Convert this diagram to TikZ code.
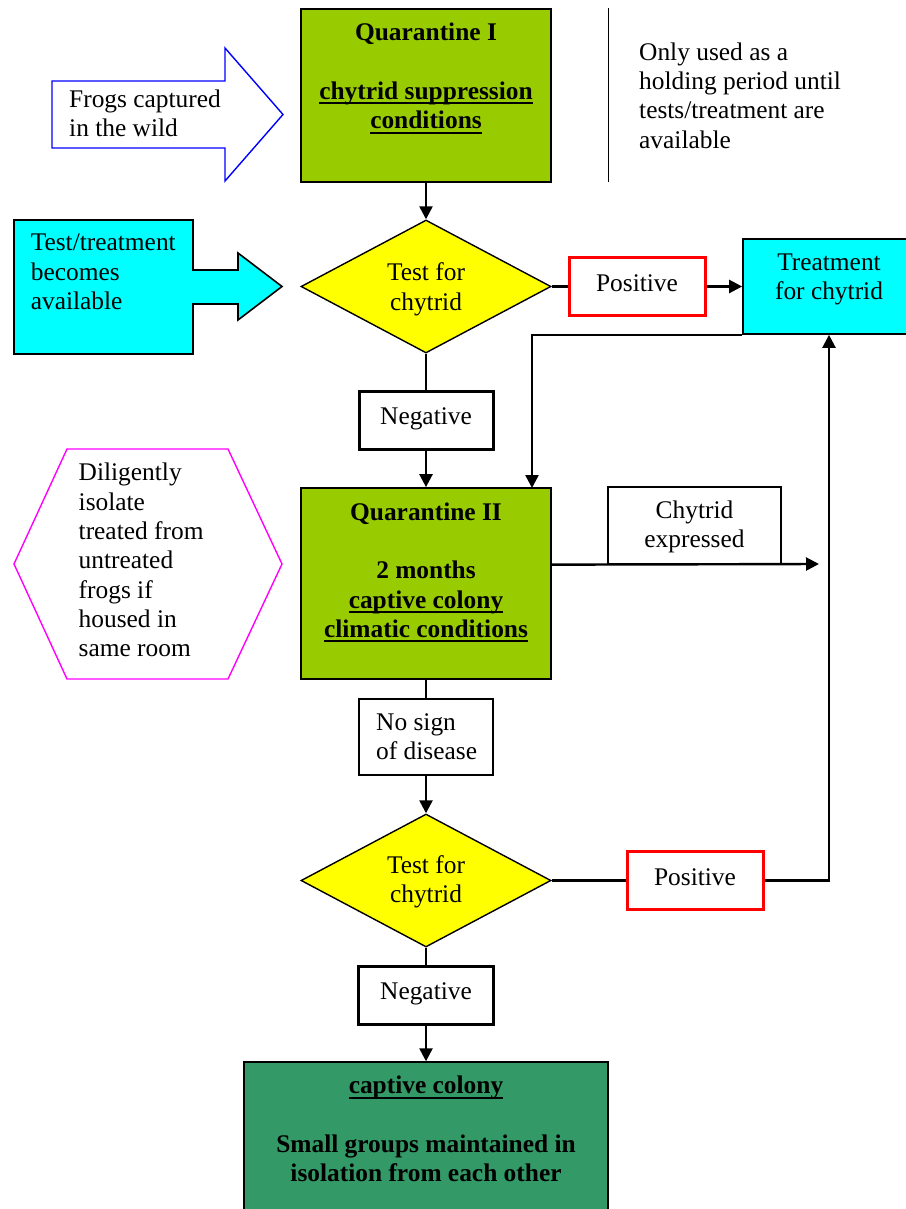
\documentclass[tikz,border=0pt]{standalone}
\usepackage{fontspec}
\setmainfont{Liberation Serif}
\usetikzlibrary{arrows.meta,shapes.geometric}
\definecolor{qgreen}{HTML}{99CC00}
\definecolor{cgreen}{HTML}{339966}
\definecolor{qcyan}{HTML}{00FFFF}
\definecolor{qyellow}{HTML}{FFFF00}
\definecolor{qred}{HTML}{FF0000}
\definecolor{qmag}{HTML}{FF00FF}
\definecolor{qblue}{HTML}{0000FF}
\newcommand{\mystrut}{\rule{0pt}{18pt}}
\newcommand{\myul}[1]{\setbox0\hbox{#1}\rlap{\rule[-5pt]{\wd0}{2pt}}\box0}
\begin{document}
\begin{tikzpicture}[x=1pt,y=-1pt,
  font={\fontsize{25.4}{29.3}\selectfont},
  box/.style={draw, rectangle, inner sep=0pt, line width=1.7pt},
  thinbox/.style={draw, rectangle, inner sep=0pt, line width=1.3pt, fill=white},
  posbox/.style={draw=qred, rectangle, inner sep=0pt, line width=3pt, fill=white},
  negbox/.style={draw, rectangle, inner sep=0pt, line width=3pt, fill=white},
  decision/.style={draw, diamond, fill=qyellow, inner sep=0pt, aspect=1.88,
    minimum width=250pt, minimum height=133pt, line width=1.4pt},
  txt/.style={inner sep=0pt, align=center, anchor=north},
  txtl/.style={inner sep=0pt, align=left, anchor=north west},
  conn/.style={line width=2.4pt},
  arr/.style={line width=2.4pt, -{Triangle[length=13pt,width=13pt]}}]
\useasboundingbox (0,0) rectangle (905,1209);
\fill[white] (0,0) rectangle (905,1209);

% Boxes
\node[box, fill=qgreen, minimum width=250pt, minimum height=173pt] (q1) at (426,95.5) {};
\node[decision] (d1) at (426,286.5) {};
\node[posbox, minimum width=136pt, minimum height=58pt] (pos1) at (637,286.5) {};
\node[box, fill=qcyan, minimum width=172pt, minimum height=95pt] (treat) at (829,286.5) {};
\node[negbox, minimum width=134pt, minimum height=58pt] (neg1) at (426,420) {};
\node[box, fill=qgreen, minimum width=250pt, minimum height=191pt] (q2) at (426,583.5) {};
\node[thinbox, minimum width=173pt, minimum height=77pt] (ce) at (694.5,525.5) {};
\node[thinbox, minimum width=134pt, minimum height=76pt] (nosign) at (426,737) {};
\node[decision] (d2) at (426,880.5) {};
\node[posbox, minimum width=136pt, minimum height=58pt] (pos2) at (695,880.5) {};
\node[negbox, minimum width=135pt, minimum height=58pt] (neg2) at (426,995) {};
\node[draw, rectangle, inner sep=0pt, line width=1.4pt, fill=cgreen, minimum width=364pt, minimum height=153pt] (colony) at (426,1138.5) {};

% Side shapes
\draw[draw=qblue, line width=1.4pt, fill=white]
  (52,81) -- (225,81) -- (225,48) -- (283,114.5) -- (225,181) -- (225,148) -- (52,148) -- cycle;
\draw[line width=1.6pt, fill=qcyan]
  (14,220) -- (193,220) -- (193,270) -- (238,270) -- (238,253) -- (282,286.5)
  -- (238,320) -- (238,304) -- (193,304) -- (193,354) -- (14,354) -- cycle;
\draw[draw=qmag, line width=1.4pt, fill=white]
  (14,564) -- (67,449) -- (228,449) -- (282,564) -- (228,679) -- (67,679) -- cycle;
\draw[line width=1.6pt] (608.5,8) -- (608.5,182);

% Coordinates
\coordinate (q2in) at (532,488);
\coordinate (ceend) at (819,564);

% Connectors
\draw[arr] (q1.south) -- (d1.north);
\draw[conn] (d1.east) -- (pos1.west);
\draw[arr] (pos1.east) -- (treat.west);
\draw[conn] (d1.south) -- (neg1.north);
\draw[arr] (neg1.south) -- (q2.north);
\draw[arr] (treat.south west) -| (q2in);
\draw[arr] (q2.east |- ce.south) -- (ceend);
\draw[conn] (q2.south) -- (nosign.north);
\draw[arr] (nosign.south) -- (d2.north);
\draw[conn] (d2.east) -- (pos2.west);
\draw[arr] (pos2.east) -| (treat.south);
\draw[conn] (d2.south) -- (neg2.north);
\draw[arr] (neg2.south) -- (colony.north);

% Texts
\node[txt, font={\fontsize{25.4}{29.3}\selectfont\bfseries}] (q1t) at (426,22.7)
  {\mystrut Quarantine I\\[29.3pt]\myul{chytrid suppression}\\\myul{conditions}};
\node[txtl] (frogst) at (69,89.3) {\mystrut Frogs captured\\in the wild};
\node[txtl] (onlyt) at (639,42) {\mystrut Only used as a\\holding period until\\tests/treatment are\\available};
\node[txtl] (testt) at (30.6,232.7) {\mystrut Test/treatment\\becomes\\available};
\node[txt] (d1t) at (426,262.7) {\mystrut Test for\\chytrid};
\node[txt] (pos1t) at (637,273) {\mystrut Positive};
\node[txt] (treatt) at (829,252) {\mystrut Treatment\\for chytrid};
\node[txt] (neg1t) at (426,406) {\mystrut Negative};
\node[txt, font={\fontsize{25.4}{29.3}\selectfont\bfseries}] (q2t) at (426,502)
  {\mystrut Quarantine II\\[29.3pt]2 months\\\myul{captive colony}\\\myul{climatic conditions}};
\node[txt] (cet) at (694.5,500.3) {\mystrut Chytrid\\expressed};
\node[txtl] (hext) at (78.5,462.7) {\mystrut Diligently\\isolate\\treated from\\untreated\\frogs if\\housed in\\same room};
\node[txtl] (nost) at (376,712) {\mystrut No sign\\of disease};
\node[txt] (d2t) at (426,855.3) {\mystrut Test for\\chytrid};
\node[txt] (pos2t) at (695,867) {\mystrut Positive};
\node[txt] (neg2t) at (426,981.3) {\mystrut Negative};
\node[txt, font={\fontsize{25.4}{29.3}\selectfont\bfseries}] (colt) at (426,1075.3)
  {\mystrut\myul{captive colony}\\[29.3pt]Small groups maintained in\\isolation from each other};
\end{tikzpicture}
\end{document}
